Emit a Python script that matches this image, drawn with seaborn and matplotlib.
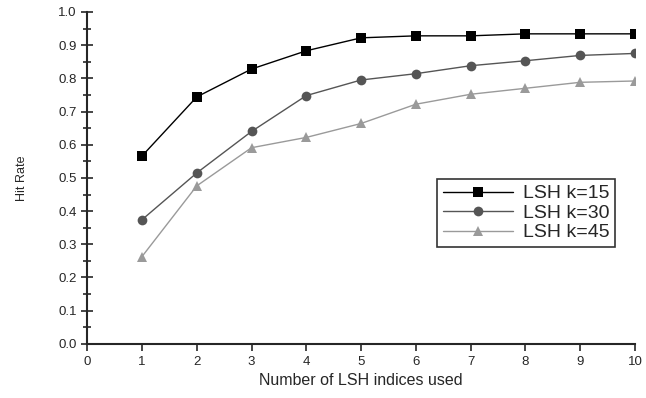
import numpy as np
import pandas as pd
import seaborn as sns
import matplotlib.pyplot as plt
from matplotlib.ticker import MultipleLocator

sns.set_style("ticks")
plt.rcParams['font.family'] = ['Liberation Sans', 'DejaVu Sans']

indices = [1, 2, 3, 4, 5, 6, 7, 8, 9, 10]
k15 = [0.566, 0.744, 0.828, 0.883, 0.922, 0.928, 0.928, 0.934, 0.934, 0.934]
k30 = [0.374, 0.515, 0.640, 0.748, 0.795, 0.814, 0.838, 0.853, 0.869, 0.875]
k45 = [0.263, 0.476, 0.591, 0.622, 0.664, 0.722, 0.752, 0.770, 0.788, 0.792]
labels = ["LSH k=15", "LSH k=30", "LSH k=45"]

df = pd.DataFrame({
    "x": indices * 3,
    "y": k15 + k30 + k45,
    "series": [labels[0]] * 10 + [labels[1]] * 10 + [labels[2]] * 10,
})

fig = plt.figure(figsize=(6.46, 3.98), dpi=100)
ax = fig.add_axes([0.135, 0.136, 0.848, 0.834])

sns.lineplot(data=df, x="x", y="y", hue="series", style="series",
             palette=["#000000", "#555555", "#9a9a9a"],
             markers=["s", "o", "^"], dashes=False, markersize=7,
             linewidth=1, markeredgewidth=0, ax=ax)

ax.set_xlim(0, 10)
ax.set_ylim(0, 1.0)
ax.xaxis.set_major_locator(MultipleLocator(1))
ax.yaxis.set_major_locator(MultipleLocator(0.1))
ax.yaxis.set_minor_locator(MultipleLocator(0.05))
ax.yaxis.set_major_formatter(plt.FormatStrFormatter("%.1f"))
ax.tick_params(axis="y", which="major", direction="inout", length=8, width=1.2, labelsize=9.5)
ax.tick_params(axis="y", which="minor", direction="inout", length=6, width=1.2)
ax.tick_params(axis="x", which="major", direction="out", length=5, width=1.2, labelsize=9.5)
for s in ["top", "right"]:
    ax.spines[s].set_visible(False)
for s in ["left", "bottom"]:
    ax.spines[s].set_linewidth(1.5)

ax.set_xlabel("Number of LSH indices used", fontsize=11.5)
ax.set_ylabel("Hit Rate", fontsize=9, labelpad=22)

leg = ax.legend(loc="upper left", bbox_to_anchor=(0.639, 0.497), fontsize=14,
                frameon=True, fancybox=False, edgecolor="black",
                handlelength=3.6, handletextpad=0.5, borderpad=0.3,
                labelspacing=0.1, borderaxespad=0)
leg.get_frame().set_linewidth(1.2)

plt.savefig("out.png", dpi=100)
